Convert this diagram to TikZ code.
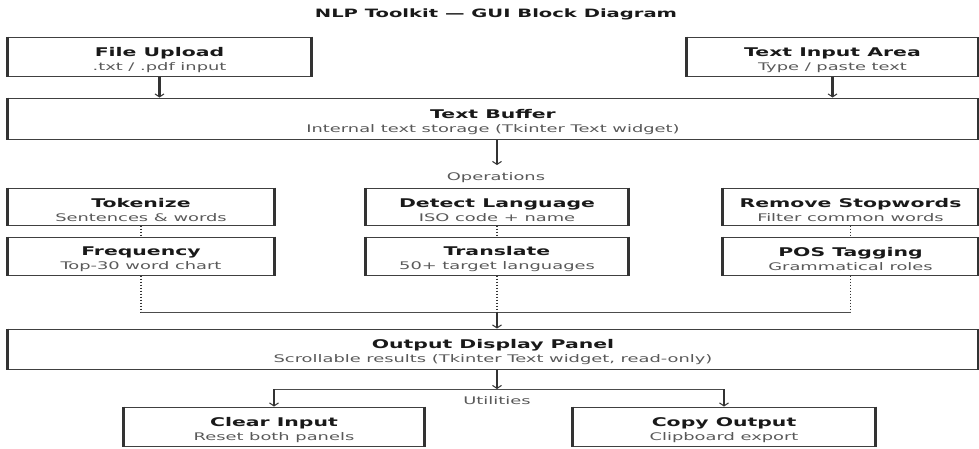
\documentclass[tikz,border=0pt]{standalone}
\usepackage{fontspec}
\setmainfont{DejaVu Sans}[FakeStretch=1.7]
\usetikzlibrary{arrows.meta}
\newcommand\nttl[1]{{\fontsize{12}{14}\selectfont\bfseries\color{black!90}\rule{0pt}{16pt}#1}}
\newcommand\nsubt[1]{{\fontsize{10.5}{14}\selectfont\color{black!65}#1}}
\begin{document}
\begin{tikzpicture}[x=1pt,y=-1pt,
  box/.style={draw=black!75, line width=1pt, inner sep=0pt, align=center, font=\fontsize{11}{14}\selectfont},
  vside/.style={draw=black!80, line width=2.2pt},
  arr/.style={draw=black!80, line width=2.2pt, -{Straight Barb[length=3pt,width=9pt,line width=1pt]}},
  hline/.style={draw=black!70, line width=1pt},
  dline/.style={draw=black!80, line width=1.6pt, dash pattern=on 1.6pt off 1.4pt},
  lbl/.style={font=\fontsize{10.5}{12}\selectfont, text=black!65, inner sep=0pt}]
\useasboundingbox (0,0) rectangle (979,448);
\node[inner sep=0pt, font=\fontsize{11.5}{13}\selectfont\bfseries, text=black!90] (title) at (496,14) {NLP Toolkit — GUI Block Diagram};

\node[box, minimum width=303pt, minimum height=39pt] (fileup) at (159.5,56.5) {\nttl{File Upload}\\\nsubt{.txt / .pdf input}};
\node[box, minimum width=291pt, minimum height=39pt] (textin) at (832.5,56.5) {\nttl{Text Input Area}\\\nsubt{Type / paste text}};
\node[box, minimum width=970pt, minimum height=41pt] (buffer) at (493,118.5) {\nttl{Text Buffer}\\\nsubt{Internal text storage (Tkinter Text widget)}};

\node[lbl] (ops) at (496,178) {Operations};

\node[box, minimum width=266pt, minimum height=37pt] (tok) at (141,206.5) {\nttl{Tokenize}\\\nsubt{Sentences \& words}};
\node[box, minimum width=266pt, minimum height=38pt] (freq) at (141,256) {\nttl{Frequency}\\\nsubt{Top-30 word chart}};
\node[box, minimum width=262pt, minimum height=37pt] (detect) at (497,206.5) {\nttl{Detect Language}\\\nsubt{ISO code + name}};
\node[box, minimum width=262pt, minimum height=38pt] (trans) at (497,256) {\nttl{Translate}\\\nsubt{50+ target languages}};
\node[box, minimum width=255pt, minimum height=37pt] (stop) at (850.5,206.5) {\nttl{Remove Stopwords}\\\nsubt{Filter common words}};
\node[box, minimum width=255pt, minimum height=38pt] (pos) at (850.5,256) {\nttl{POS Tagging}\\\nsubt{Grammatical roles}};

\node[box, minimum width=970pt, minimum height=40pt] (output) at (493,349) {\nttl{Output Display Panel}\\\nsubt{Scrollable results (Tkinter Text widget, read-only)}};

\node[lbl] (util) at (497,401) {Utilities};

\node[box, minimum width=300pt, minimum height=39pt] (clear) at (274,426.5) {\nttl{Clear Input}\\\nsubt{Reset both panels}};
\node[box, minimum width=302pt, minimum height=39pt] (copy) at (724,426.5) {\nttl{Copy Output}\\\nsubt{Clipboard export}};

\foreach \n in {fileup,textin,buffer,tok,freq,detect,trans,stop,pos,output,clear,copy}
  \draw[vside] (\n.north west) -- (\n.south west) (\n.north east) -- (\n.south east);

% top arrows
\draw[arr] (fileup.south) -- (fileup.south |- buffer.north);
\draw[arr] (textin.south) -- (textin.south |- buffer.north);
\coordinate (opsin) at (497,165);
\draw[arr] (buffer.south -| opsin) -- (opsin);

% dashed links within columns
\draw[dline] (tok.south) -- (freq.north);
\draw[dline] (detect.south) -- (trans.north);
\draw[dline] (stop.south) -- (pos.north);

% merge to output
\coordinate (mL) at (141,312);
\coordinate (mR) at (850.5,312);
\coordinate (mC) at (497,312);
\draw[dline] (freq.south) -- (mL);
\draw[dline] (pos.south) -- (mR);
\draw[hline] (mL) -- (mR);
\draw[dline] (trans.south) -- (mC);
\draw[arr] (mC) -- (mC |- output.north);

% utilities
\coordinate (uC) at (497,389);
\draw[arr] (output.south -| uC) -- (uC);
\draw[hline] (clear.north |- uC) -- (copy.north |- uC);
\draw[arr] (clear.north |- uC) -- (clear.north);
\draw[arr] (copy.north |- uC) -- (copy.north);
\end{tikzpicture}
\end{document}
